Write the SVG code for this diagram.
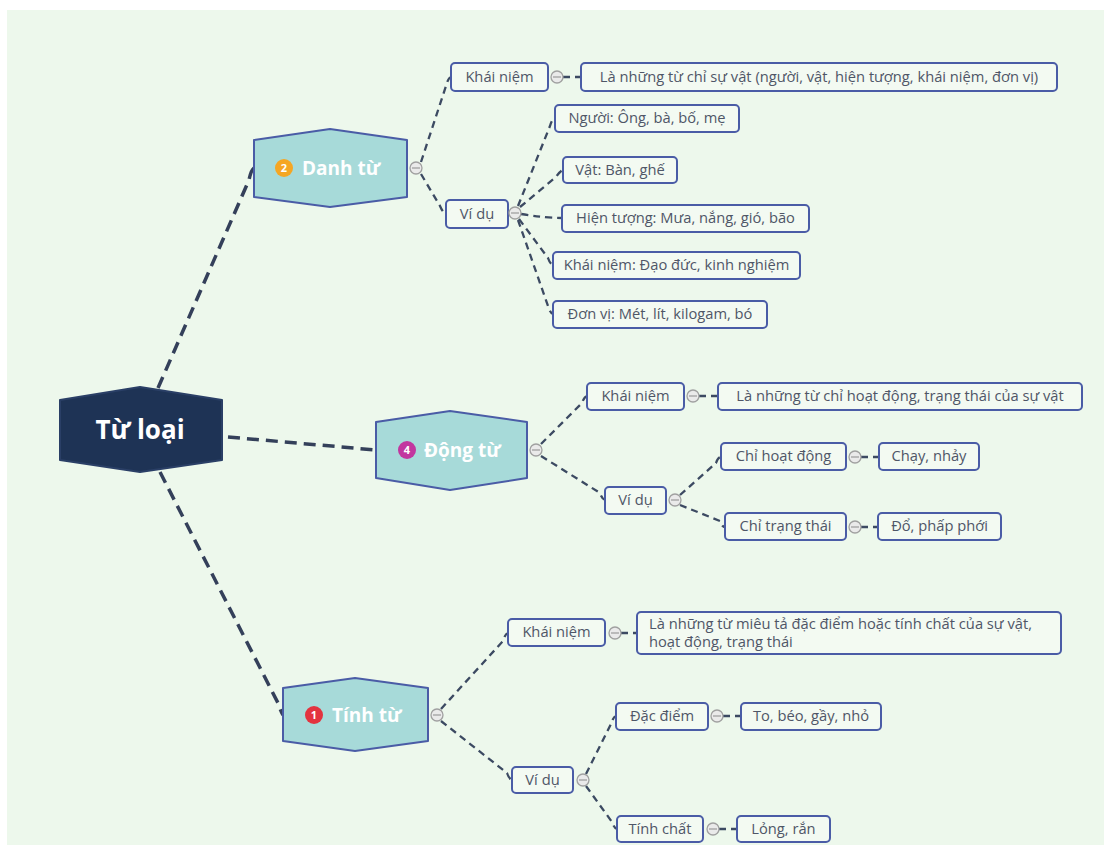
<svg xmlns="http://www.w3.org/2000/svg" width="1104" height="845" viewBox="0 0 1104 845">
<style>
.bg{fill:#edf8ec}
.box{fill:#f3faf2;stroke:#4a5ca6;stroke-width:2}
.t{font-family:"Open Sans","Liberation Sans",sans-serif;font-size:14.7px;fill:#4f5667}
.tm{text-anchor:middle}
.hex{fill:#a7dad9;stroke:#4a5ca6;stroke-width:2;stroke-linejoin:round}
.root{fill:#1e3355;stroke:#2a3f66;stroke-width:2;stroke-linejoin:round}
.ht{font-family:"Open Sans","Liberation Sans",sans-serif;font-weight:bold;font-size:19px;fill:#ffffff}
.rt{font-family:"Open Sans","Liberation Sans",sans-serif;font-weight:bold;font-size:26px;fill:#ffffff;text-anchor:middle}
.mk{font-family:"Open Sans","Liberation Sans",sans-serif;font-weight:bold;font-size:11px;fill:#ffffff;text-anchor:middle}
.c{fill:none;stroke:#3c4a62;stroke-width:2.3;stroke-dasharray:7 5}
.cm{fill:none;stroke:#34405a;stroke-width:3.5;stroke-dasharray:12 7}
.col{fill:#eaeaea;stroke:#a0a0a0;stroke-width:1.3}
.colm{stroke:#a0a0a0;stroke-width:1.3}
</style>
<rect x="0" y="0" width="1104" height="845" fill="#ffffff"/>
<rect class="bg" x="7" y="10" width="1097" height="835"/>

<g id="connectors">
<path class="cm" d="M158 388 L249 180 Q251 170 254 168"/>
<path class="cm" d="M228 437 L376 450"/>
<path class="cm" d="M160 472 L278 703 Q281 712 283 715"/>
<path class="c" d="M421 162 L446 86 Q448 78 451 77"/>
<path class="c" d="M421 174 L440 206 Q443 213 446 214"/>
<path class="c" d="M563 77 L581 77"/>
<path class="c" d="M518 206 L550 126 Q552 119 555 118"/>
<path class="c" d="M520 207 L556 177 Q560 171 563 170"/>
<path class="c" d="M521 214 Q545 218 562 218"/>
<path class="c" d="M519 219 L548 258 Q550 264 553 265"/>
<path class="c" d="M518 220 L548 306 Q550 313 553 314"/>
<path class="c" d="M541 444 L582 403 Q584 397 587 396"/>
<path class="c" d="M541 456 L600 493 Q602 499 605 500"/>
<path class="c" d="M699 396 L718 396"/>
<path class="c" d="M680 495 L716 463 Q718 457 721 457"/>
<path class="c" d="M680 505 L720 521 Q722 527 725 527"/>
<path class="c" d="M861 457 L879 457"/>
<path class="c" d="M861 527 L878 527"/>
<path class="c" d="M441 709 L503 641 Q505 634 508 633"/>
<path class="c" d="M441 721 L507 773 Q509 779 512 780"/>
<path class="c" d="M621 633 L637 633"/>
<path class="c" d="M586 774 L611 724 Q613 717 616 716"/>
<path class="c" d="M586 786 L612 822 Q614 828 617 829"/>
<path class="c" d="M723 716 L741 716"/>
<path class="c" d="M719 829 L737 829"/>
</g>

<g id="root">
<path class="root" d="M60 400 L140 387 L222 400 L222 460 L140 472 L60 460 Z"/>
<text class="rt" x="140" y="439">Từ loại</text>
</g>

<g id="danh-tu">
<path class="hex" d="M254 140 L330 129 L407 140 L407 197 L330 207 L254 197 Z"/>
<circle cx="284" cy="168" r="9" fill="#f5a623"/>
<text class="mk" x="284" y="172">2</text>
<text class="ht" x="302" y="175">Danh từ</text>
<circle class="col" cx="416" cy="168" r="6"/><line class="colm" x1="412" y1="168" x2="420" y2="168"/>
</g>

<g id="dt-khainiem">
<rect class="box" x="451" y="63" width="97" height="28" rx="4"/>
<text class="t tm" x="499.5" y="82">Khái niệm</text>
<circle class="col" cx="557" cy="77" r="6"/><line class="colm" x1="553" y1="77" x2="561" y2="77"/>
</g>
<g id="dt-def">
<rect class="box" x="581" y="63" width="476" height="28" rx="4"/>
<text class="t tm" x="819" y="82">Là những từ chỉ sự vật (người, vật, hiện tượng, khái niệm, đơn vị)</text>
</g>
<g id="dt-vidu">
<rect class="box" x="446" y="200" width="62" height="28" rx="4"/>
<text class="t tm" x="477" y="219">Ví dụ</text>
<circle class="col" cx="515" cy="213" r="6"/><line class="colm" x1="511" y1="213" x2="519" y2="213"/>
</g>
<g id="dt-nguoi">
<rect class="box" x="555" y="105" width="184" height="27" rx="4"/>
<text class="t tm" x="647" y="123">Người: Ông, bà, bố, mẹ</text>
</g>
<g id="dt-vat">
<rect class="box" x="563" y="157" width="114" height="26" rx="4"/>
<text class="t tm" x="620" y="175">Vật: Bàn, ghế</text>
</g>
<g id="dt-hientuong">
<rect class="box" x="562" y="205" width="247" height="27" rx="4"/>
<text class="t tm" x="685.5" y="223">Hiện tượng: Mưa, nắng, gió, bão</text>
</g>
<g id="dt-khainiem2">
<rect class="box" x="553" y="252" width="247" height="27" rx="4"/>
<text class="t tm" x="676.5" y="270">Khái niệm: Đạo đức, kinh nghiệm</text>
</g>
<g id="dt-donvi">
<rect class="box" x="553" y="301" width="214" height="27" rx="4"/>
<text class="t tm" x="660" y="319">Đơn vị: Mét, lít, kilogam, bó</text>
</g>

<g id="dong-tu">
<path class="hex" d="M376 422 L450 411 L527 422 L527 478 L450 490 L376 478 Z"/>
<circle cx="407" cy="450" r="9" fill="#c2369f"/>
<text class="mk" x="407" y="454">4</text>
<text class="ht" x="424" y="457">Động từ</text>
<circle class="col" cx="536" cy="450" r="6"/><line class="colm" x1="532" y1="450" x2="540" y2="450"/>
</g>
<g id="dg-khainiem">
<rect class="box" x="587" y="383" width="97" height="27" rx="4"/>
<text class="t tm" x="635.5" y="401">Khái niệm</text>
<circle class="col" cx="693" cy="396" r="6"/><line class="colm" x1="689" y1="396" x2="697" y2="396"/>
</g>
<g id="dg-def">
<rect class="box" x="718" y="383" width="364" height="27" rx="4"/>
<text class="t tm" x="900" y="401">Là những từ chỉ hoạt động, trạng thái của sự vật</text>
</g>
<g id="dg-vidu">
<rect class="box" x="605" y="487" width="61" height="27" rx="4"/>
<text class="t tm" x="635.5" y="505">Ví dụ</text>
<circle class="col" cx="675" cy="500" r="6"/><line class="colm" x1="671" y1="500" x2="679" y2="500"/>
</g>
<g id="dg-hoatdong">
<rect class="box" x="721" y="443" width="125" height="27" rx="4"/>
<text class="t tm" x="783.5" y="461">Chỉ hoạt động</text>
<circle class="col" cx="855" cy="457" r="6"/><line class="colm" x1="851" y1="457" x2="859" y2="457"/>
</g>
<g id="dg-chay">
<rect class="box" x="879" y="443" width="100" height="27" rx="4"/>
<text class="t tm" x="929" y="461">Chạy, nhảy</text>
</g>
<g id="dg-trangthai">
<rect class="box" x="725" y="513" width="121" height="27" rx="4"/>
<text class="t tm" x="785.5" y="531">Chỉ trạng thái</text>
<circle class="col" cx="855" cy="527" r="6"/><line class="colm" x1="851" y1="527" x2="859" y2="527"/>
</g>
<g id="dg-do">
<rect class="box" x="878" y="513" width="123" height="27" rx="4"/>
<text class="t tm" x="939.5" y="531">Đổ, phấp phới</text>
</g>

<g id="tinh-tu">
<path class="hex" d="M283 688 L355 678 L428 688 L428 741 L355 751 L283 741 Z"/>
<circle cx="314" cy="715" r="9" fill="#e3333f"/>
<text class="mk" x="314" y="719">1</text>
<text class="ht" x="332" y="722">Tính từ</text>
<circle class="col" cx="437" cy="715" r="6"/><line class="colm" x1="433" y1="715" x2="441" y2="715"/>
</g>
<g id="tt-khainiem">
<rect class="box" x="508" y="619" width="97" height="27" rx="4"/>
<text class="t tm" x="556.5" y="637">Khái niệm</text>
<circle class="col" cx="615" cy="633" r="6"/><line class="colm" x1="611" y1="633" x2="619" y2="633"/>
</g>
<g id="tt-def">
<rect class="box" x="637" y="612" width="424" height="42" rx="4"/>
<text class="t" x="649" y="629">Là những từ miêu tả đặc điểm hoặc tính chất của sự vật,</text>
<text class="t" x="649" y="647">hoạt động, trạng thái</text>
</g>
<g id="tt-vidu">
<rect class="box" x="512" y="767" width="61" height="26" rx="4"/>
<text class="t tm" x="542.5" y="785">Ví dụ</text>
<circle class="col" cx="583" cy="780" r="6"/><line class="colm" x1="579" y1="780" x2="587" y2="780"/>
</g>
<g id="tt-dacdiem">
<rect class="box" x="616" y="703" width="92" height="27" rx="4"/>
<text class="t tm" x="662" y="721">Đặc điểm</text>
<circle class="col" cx="717" cy="716" r="6"/><line class="colm" x1="713" y1="716" x2="721" y2="716"/>
</g>
<g id="tt-to">
<rect class="box" x="741" y="703" width="140" height="27" rx="4"/>
<text class="t tm" x="811" y="721">To, béo, gầy, nhỏ</text>
</g>
<g id="tt-tinhchat">
<rect class="box" x="617" y="816" width="86" height="26" rx="4"/>
<text class="t tm" x="660" y="834">Tính chất</text>
<circle class="col" cx="713" cy="829" r="6"/><line class="colm" x1="709" y1="829" x2="717" y2="829"/>
</g>
<g id="tt-long">
<rect class="box" x="737" y="816" width="93" height="26" rx="4"/>
<text class="t tm" x="783.5" y="834">Lỏng, rắn</text>
</g>
</svg>
